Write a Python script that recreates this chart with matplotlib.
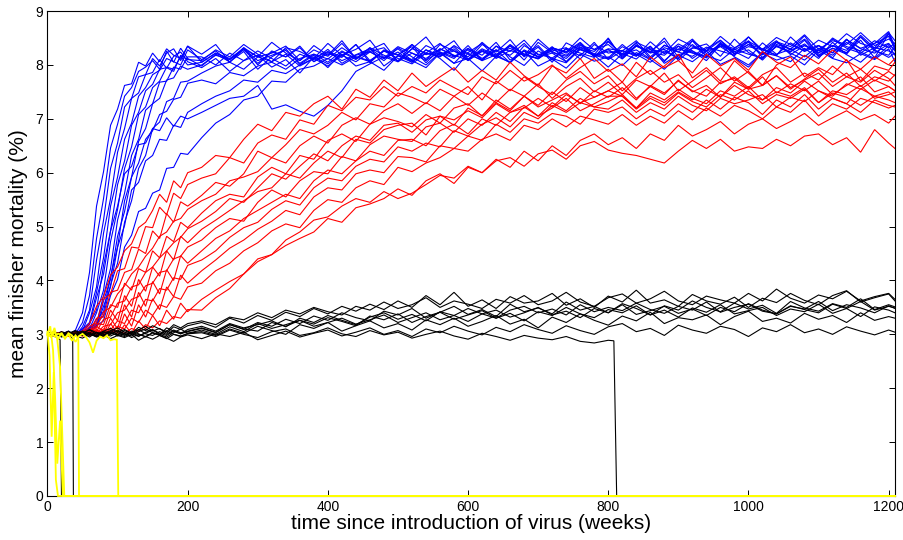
import matplotlib
matplotlib.use("Agg")
import matplotlib.pyplot as plt

# time grid (weeks) shared by the full-length runs
T = list(range(0, 201, 10)) + list(range(220, 1201, 20)) + [1209]

# values are mortality in hundredths of a percent
B1 = [302,296,304,299,308,340,415,538,602,688,718,762,765,805,798,822,806,830,818,812,835,
      820,838,805,832,815,842,822,808,836,818,845,812,828,840,806,830,852,818,826,809,
      838,824,847,815,833,805,841,828,819,850,812,836,825,844,808,831,839,816,848,823,
      811,842,829,854,818,836,822,846,813,858,830]
B2 = [300,305,296,303,301,322,372,478,552,646,690,742,758,788,796,808,792,826,805,831,812,
      798,820,806,825,792,815,830,801,818,795,824,810,832,798,817,805,828,812,790,822,
      808,835,815,799,826,812,804,829,818,796,821,811,834,803,819,826,808,838,815,800,
      823,817,806,831,812,842,819,805,828,814,822]
B3 = [297,303,300,306,298,314,345,438,512,608,655,722,738,778,782,812,798,822,830,808,835,
      805,822,810,832,800,826,815,835,806,824,816,838,804,828,819,810,836,824,803,830,
      818,842,809,826,815,834,806,832,821,813,838,817,829,806,835,823,814,840,820,828,
      809,836,824,846,815,831,820,852,826,818,834]
B4 = [303,296,301,298,304,306,340,388,488,552,638,682,738,748,782,786,810,794,816,824,806,
      795,812,788,808,818,796,810,785,815,802,820,798,806,790,817,808,795,822,803,812,
      789,816,805,826,798,811,794,820,807,815,799,823,810,792,818,806,826,801,813,796,
      822,809,817,800,828,812,804,821,810,830,806]
B5 = [299,304,297,302,300,310,322,378,442,538,592,662,692,742,758,782,790,812,806,800,828,
      810,826,805,830,815,822,835,808,828,816,840,812,825,832,806,838,819,827,845,811,
      830,818,836,809,842,823,816,833,825,848,814,837,822,829,811,845,826,834,817,852,
      828,819,841,825,836,813,847,830,822,839,828]
B6 = [301,297,303,299,306,302,320,345,428,492,578,622,688,712,752,764,792,795,788,818,810,
      808,828,815,838,820,806,832,825,812,840,818,829,846,813,834,822,808,838,826,815,
      842,820,831,817,848,825,812,836,829,844,818,835,823,850,814,832,826,845,821,838,
      830,817,852,828,836,822,847,831,840,862,834]
B7 = [298,303,300,304,297,307,310,340,382,472,532,608,648,708,722,758,770,796,792,816,800,
      805,822,812,830,808,818,827,803,820,811,832,815,806,826,818,838,809,824,815,831,
      812,828,804,836,820,813,829,817,842,810,826,819,835,808,830,822,816,838,825,812,
      841,820,829,815,836,823,848,818,832,826,820]
B8 = [302,299,304,298,303,300,312,320,372,422,512,562,632,662,716,728,768,770,796,792,815,
      815,800,822,808,826,812,798,820,810,829,803,818,825,808,832,815,800,823,812,836,
      808,819,804,828,815,822,806,830,818,811,834,820,805,826,812,838,817,808,829,820,
      813,835,822,809,831,818,842,824,812,836,818]
B9 = [300,304,298,302,299,306,306,328,342,408,462,548,592,658,682,728,738,772,776,798,792,
      800,818,810,828,803,824,815,832,806,821,814,838,808,826,819,834,804,830,817,823,
      840,812,827,818,836,809,831,822,814,843,820,828,811,837,824,816,833,826,818,845,
      814,834,825,839,817,831,823,852,828,858,830]
B10 = [297,302,300,304,299,303,304,320,335,392,432,508,548,608,632,682,694,732,738,768,770,
       785,798,805,792,815,806,820,798,812,825,808,819,830,812,824,805,828,818,834,810,
       826,815,838,820,812,832,822,840,816,829,811,835,824,818,839,826,813,842,821,834,
       828,845,819,836,826,848,831,822,840,853,830]
B11 = [303,298,302,299,304,301,312,314,352,388,462,502,568,582,622,632,662,660,688,684,712,
       728,742,752,772,768,790,784,800,812,798,818,806,824,812,830,808,822,815,836,820,
       809,828,818,840,814,826,832,811,838,822,827,816,843,821,835,812,830,846,824,838,
       819,842,828,836,822,850,834,826,845,832,840]
B12 = [300,303,297,302,299,305,302,316,325,372,402,462,484,528,534,562,568,608,610,636,634,
       665,692,708,735,742,770,768,792,798,812,800,815,808,826,812,802,822,816,830,808,
       825,814,836,820,811,829,818,838,815,826,821,840,812,832,824,845,816,835,828,842,
       819,838,830,848,822,836,827,855,831,840,826]
B13 = [299,302,304,298,301,310,318,368,412,492,538,598,612,652,655,682,678,702,686,705,700,
       712,725,738,742,762,718,726,714,705,725,752,788,802,815,806,822,812,830,818,809,
       828,816,835,820,812,831,824,842,818,830,826,845,815,836,828,848,821,839,830,852,
       825,843,834,856,829,845,838,860,836,848,840]
B14 = [302,297,301,304,298,300,312,314,362,402,482,528,592,618,662,678,708,714,736,740,766,
       772,765,786,780,798,805,792,812,820,805,826,812,832,818,808,830,822,840,815,828,
       810,835,825,846,818,832,824,850,828,838,816,842,830,822,848,835,826,853,832,844,
       829,851,838,826,846,834,858,840,832,860,845]

R1 = [301,297,304,298,303,306,320,352,370,410,425,455,468,498,508,530,560,545,585,572,600,
      610,632,628,662,690,678,712,705,728,742,718,755,740,772,752,
      785,760,778,795,768,790,772,805,780,762,798,785,812,775,792,
      768,805,782,798,820,776,795,770,808,785,762,800,815,778,795,782,810,770,798,790,805]
R2 = [299,303,300,296,304,302,315,322,365,375,418,422,462,460,500,498,536,522,562,552,578,
      590,598,628,618,655,670,662,698,690,725,715,740,735,760,742,
      760,748,772,758,745,778,765,790,770,782,800,775,795,812,788,
      802,778,815,795,808,785,820,798,812,790,825,805,795,818,802,828,808,792,815,800,812]
R3 = [302,298,301,305,297,303,305,330,332,378,382,415,420,458,450,492,478,524,508,546,538,
      558,582,575,598,640,628,652,680,672,688,712,698,728,722,748,
      740,728,755,742,760,735,770,752,778,760,745,772,788,765,780,
      752,775,790,768,782,758,776,795,770,788,762,780,755,774,792,768,785,760,778,770,782]
R4 = [300,304,297,302,299,305,308,312,342,350,375,390,412,425,445,460,482,490,510,515,532,
      548,560,585,592,602,628,618,650,668,655,688,702,690,715,728,
      710,730,715,742,725,748,730,755,742,765,738,760,775,750,768,
      745,772,760,785,752,770,790,765,778,758,782,795,768,785,772,798,778,792,770,788,780]
R5 = [298,302,304,299,303,300,302,320,318,355,350,395,382,422,415,455,442,482,472,508,498,
      525,548,560,555,592,610,598,632,625,660,672,658,690,702,695,
      685,708,692,720,728,705,735,718,742,725,750,732,758,740,752,
      768,738,760,745,772,750,762,740,768,755,778,748,765,752,770,745,762,778,750,760,752]
R6 = [301,297,303,300,304,299,310,305,328,332,358,362,388,392,415,425,442,455,470,480,496,
      510,528,552,545,572,598,588,612,635,622,650,668,660,688,692,
      675,698,705,688,720,706,730,715,742,722,735,748,728,752,740,
      758,735,762,748,770,752,742,768,775,755,762,780,758,772,785,760,778,768,790,775,762]
R7 = [299,303,298,302,300,304,298,315,306,345,325,372,352,402,380,425,408,455,438,482,470,
      495,512,530,548,565,572,598,590,618,640,628,662,655,680,688,
      692,670,705,698,715,702,728,712,720,738,722,745,730,740,752,
      742,720,748,735,755,738,728,752,742,760,735,750,742,758,730,752,745,762,738,745,750]
R8 = [302,300,304,297,302,301,304,302,315,318,340,345,365,370,390,395,415,418,440,445,462,
      475,498,515,510,545,568,555,585,602,598,630,622,652,668,662,
      658,685,692,675,700,688,712,695,722,705,730,715,738,722,732,
      745,720,742,730,750,735,755,740,762,745,735,758,748,770,752,742,765,755,772,760,752]
R9 = [300,296,302,303,298,302,299,308,300,330,310,355,332,378,352,398,375,420,400,446,432,
      455,478,492,515,530,545,560,552,585,605,598,622,640,632,660,
      662,650,678,690,672,700,688,712,725,705,720,738,715,728,742,
      742,718,738,725,748,732,722,745,735,752,728,745,738,755,730,748,740,725,742,735,730]
R10 = [298,302,298,303,300,297,305,300,310,308,325,320,345,340,365,362,385,382,405,402,428,
       438,455,480,498,508,532,548,540,572,590,585,612,625,620,648,
       640,655,648,678,668,690,702,685,712,700,725,712,730,722,718,
       735,712,730,718,742,725,715,738,728,735,745,722,740,732,752,738,728,756,742,750,740]
R11 = [301,298,303,299,297,303,297,310,295,320,302,338,315,355,332,366,346,388,370,410,395,
       418,438,460,475,495,510,530,522,555,572,568,598,605,600,630,
       628,620,650,645,668,660,690,675,700,692,710,705,690,718,712,
       722,700,718,705,728,712,735,718,740,730,708,735,722,745,718,738,728,712,735,725,722]
R12 = [299,303,300,297,302,304,300,302,306,304,315,310,330,322,345,335,355,350,370,365,388,
       395,418,432,455,470,492,505,498,530,550,545,572,585,578,610,
       602,618,628,645,640,662,672,660,688,680,700,685,705,698,690,
       708,688,705,692,715,698,720,705,725,715,700,722,712,735,705,728,718,738,730,720,725]
R13 = [300,297,304,301,298,301,299,305,296,312,298,318,302,325,310,335,316,345,328,358,342,
       365,382,398,412,440,448,465,478,490,515,508,535,542,552,570,
       558,585,598,580,610,600,625,610,640,622,650,632,660,672,652,
       665,645,672,660,688,668,680,695,672,690,700,682,695,710,688,702,715,698,708,692,705]
R14 = [301,299,303,300,304,297,304,300,302,303,306,302,311,305,318,312,325,320,333,330,346,
       345,368,385,412,435,448,475,490,512,518,538,552,545,565,552,
       562,578,595,590,612,600,622,628,612,635,642,625,650,658,642,
       636,632,625,618,640,660,645,662,640,648,645,662,650,668,672,652,665,638,680,655,645]

K1 = [302,298,305,301,297,303,308,300,306,311,304,309,302,313,307,316,310,305,318,312,320,
      325,318,332,327,340,331,345,338,350,342,336,352,345,360,348,355,368,350,362,356,
      348,365,358,372,355,362,378,360,352,368,375,358,366,380,362,355,371,364,358,376,
      362,384,367,358,373,366,380,362,370,376,365]
K2 = [299,303,297,301,306,299,302,296,304,300,308,301,297,305,310,303,299,312,306,301,309,
      315,306,320,312,318,325,314,330,322,335,326,318,332,340,328,337,325,342,335,348,
      338,330,345,352,340,347,336,355,342,350,344,358,346,339,352,345,360,341,350,356,
      343,338,352,347,361,344,355,349,340,353,348]
K3 = [304,300,296,302,299,305,298,303,295,301,306,299,304,297,302,308,300,295,303,310,302,
      308,300,314,305,320,311,318,326,315,322,330,319,327,336,322,331,340,327,335,324,
      338,345,332,340,350,336,343,331,348,340,355,337,344,352,339,347,335,350,342,357,
      345,338,353,346,340,356,348,361,345,352,349]
K4 = [298,302,295,300,297,293,301,296,299,292,298,294,300,289,296,291,298,293,287,295,299,
      292,301,296,304,290,298,306,295,302,308,297,304,312,300,307,296,310,303,315,306,
      299,313,305,318,309,302,316,307,300,314,320,305,311,298,317,308,302,315,309,296,
      312,305,318,303,310,300,314,306,299,308,304]
K5 = [301,297,304,299,302,306,300,297,305,302,299,307,301,296,304,309,302,298,306,301,305,
      311,303,318,309,322,315,328,320,334,326,340,331,325,343,336,348,330,341,352,337,
      346,333,356,342,349,338,360,345,352,340,357,348,336,353,345,362,350,342,358,347,
      354,339,361,349,343,357,350,366,346,355,351]
K6 = [297,303,300,306,298,302,295,304,300,297,303,298,306,301,295,303,299,307,300,296,302,
      305,298,310,302,315,307,300,318,311,322,306,316,325,312,320,308,327,318,330,315,
      324,335,319,328,312,332,322,338,326,317,334,325,341,320,331,327,336,318,333,343,
      324,330,321,339,328,335,322,340,326,333,330]
K7 = [300,305,298,302,307,301,309,303,298,306,312,304,300,308,315,306,311,302,314,309,316,
      322,313,330,321,335,326,341,333,348,338,352,343,356,346,362,350,372,355,378,352,
      364,348,370,358,362,376,354,366,350,371,360,382,358,364,352,374,362,356,369,350,
      367,359,376,363,355,372,381,360,368,375,362]
K8 = [303,299,301,305,296,300,304,298,302,307,300,296,303,309,301,298,305,300,308,303,306,
      312,304,318,310,306,322,315,326,319,331,324,316,334,327,338,322,333,341,328,336,
      344,330,339,325,342,335,350,338,331,346,340,353,336,345,332,349,341,355,338,344,
      350,335,347,342,356,339,348,333,351,345,340]
# black runs that die out (own time points)
K9_t = T[:51] + [808, 812, 1209]
K9 = [299,302,297,300,303,298,301,295,299,304,297,302,294,300,296,303,298,292,300,297,301,
      303,296,308,300,294,305,310,298,303,312,301,296,307,299,304,293,300,306,297,291,
      302,296,289,298,293,290,296,287,284,289,288,0,0]
K10_t = [0, 10, 18, 20, 1209]
K10 = [301, 297, 290, 0, 0]
K11_t = [0, 10, 20, 30, 36, 37, 1209]
K11 = [298, 303, 296, 300, 292, 0, 0]

# yellow runs (die out early)
Y1_t = [0, 3, 6, 9, 12, 15, 1209]
Y1 = [305, 260, 110, 230, 30, 0, 0]
Y2_t = [0, 4, 8, 11, 14, 18, 22, 1209]
Y2 = [298, 315, 270, 180, 60, 140, 0, 0]
Y3_t = [0, 5, 10, 14, 18, 21, 24, 1209]
Y3 = [302, 295, 312, 290, 240, 120, 0, 0]
Y4_t = [0, 5, 10, 15, 20, 25, 30, 35, 40, 44, 45, 1209]
Y4 = [300, 296, 305, 290, 303, 292, 300, 288, 298, 292, 0, 0]
Y5_t = [0,5,10,15,20,25,30,35,40,45,50,55,60,65,70,75,80,85,90,95,99,101,1209]
Y5 = [299,303,296,301,300,293,302,298,286,297,301,295,285,266,288,296,293,298,289,291,290,0,0]

blue_runs = [B1, B2, B3, B4, B5, B6, B7, B8, B9, B10, B11, B12, B13, B14]
red_runs = [R1, R2, R3, R4, R5, R6, R7, R8, R9, R10, R11, R12, R13, R14]
black_runs = [(T, K1), (T, K2), (T, K3), (T, K4), (T, K5), (T, K6), (T, K7), (T, K8),
              (K9_t, K9), (K10_t, K10), (K11_t, K11)]
yellow_runs = [(Y1_t, Y1), (Y2_t, Y2), (Y3_t, Y3), (Y4_t, Y4), (Y5_t, Y5)]

plt.rcParams['font.family'] = ['Liberation Sans', 'DejaVu Sans']

fig = plt.figure(figsize=(9.04, 5.4), dpi=100)
ax = fig.add_axes([0.0525, 0.0815, 0.9375, 0.898])

def draw(tt, vals, color, lw=0.8, z=2, clip=True):
    n = min(len(tt), len(vals))
    ax.plot(tt[:n], [v / 100.0 for v in vals[:n]], color=color, lw=lw,
            zorder=z, clip_on=clip, solid_joinstyle='miter')

for r in blue_runs:
    draw(T, r, (0, 0, 1))
for r in red_runs:
    draw(T, r, (1, 0, 0), z=2.1)
for tt, r in black_runs:
    draw(tt, r, (0, 0, 0), z=2.2)
for tt, r in yellow_runs:
    draw(tt, r, (1, 1, 0), lw=1.3, z=3, clip=False)

ax.set_xlim(0, 1209)
ax.set_ylim(0, 9)
ax.set_xticks(range(0, 1201, 200))
ax.set_yticks(range(0, 10))
ax.tick_params(direction='in', top=True, right=True, length=4, width=0.7,
               labelsize=10, pad=3)
for s in ax.spines.values():
    s.set_linewidth(0.8)
ax.set_xlabel('time since introduction of virus (weeks)', fontsize=15, labelpad=0)
ax.set_ylabel('mean finisher mortality (%)', fontsize=15, labelpad=5)

fig.savefig('out.png', dpi=100)
